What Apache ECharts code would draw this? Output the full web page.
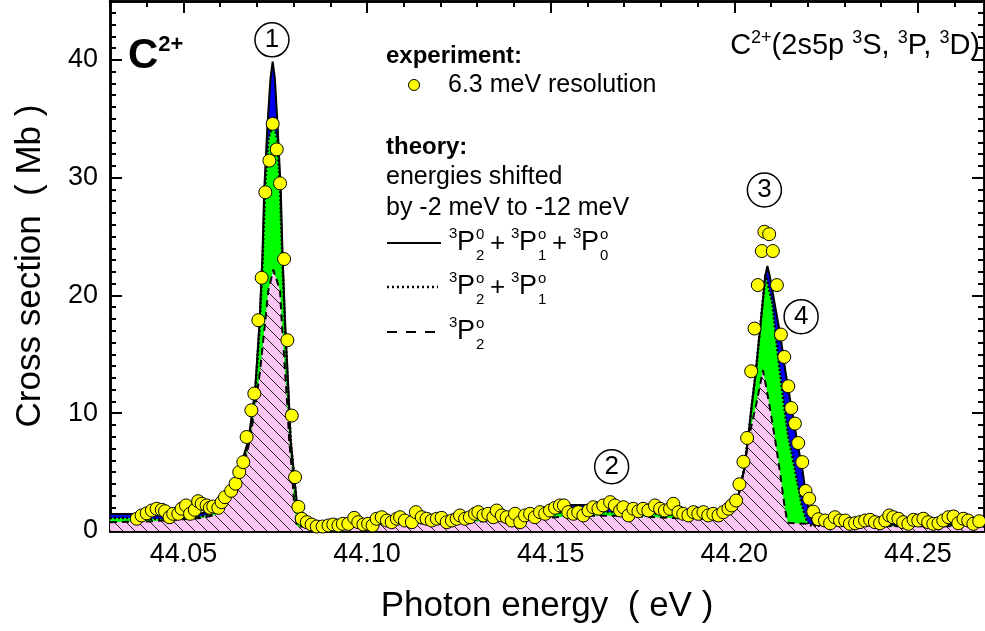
<!DOCTYPE html>
<html><head><meta charset="utf-8">
<script src="https://cdn.jsdelivr.net/npm/echarts@6/dist/echarts.min.js"></script>
<style>html,body{margin:0;padding:0;background:#fff}#c{width:985px;height:631px}</style>
</head><body><div id="c"></div>
<script>
// ---------- experiment (yellow circles) ----------
const expEnergy = [44.0373,44.0386,44.0400,44.0414,44.0427,44.0441,44.0450,44.0462,44.0472,44.0486,44.0495,44.0507,44.0518,44.0531,44.0540,44.0550,44.0563,44.0572,44.0581,44.0595,44.0604,44.0613,44.0630,44.0642,44.0652,44.0663,44.0672,44.0685,44.0693,44.0704,44.0713,44.0723,44.0734,44.0743,44.0754,44.0763,44.0774,44.0783,44.0795,44.0804,44.0813,44.0822,44.0836,44.0849,44.0863,44.0879,44.0895,44.0908,44.0922,44.0934,44.0949,44.0965,44.0976,44.0990,44.1003,44.1015,44.1026,44.1040,44.1054,44.1067,44.1081,44.1090,44.1103,44.1122,44.1133,44.1149,44.1162,44.1176,44.1190,44.1203,44.1217,44.1231,44.1244,44.1253,44.1267,44.1280,44.1294,44.1303,44.1317,44.1330,44.1344,44.1353,44.1367,44.1380,44.1394,44.1403,44.1417,44.1430,44.1444,44.1457,44.1471,44.1485,44.1498,44.1512,44.1525,44.1536,44.1548,44.1562,44.1575,44.1589,44.1603,44.1616,44.1630,44.1643,44.1662,44.1675,44.1689,44.1698,44.1712,44.1725,44.1739,44.1752,44.1766,44.1784,44.1798,44.1811,44.1825,44.1834,44.1848,44.1861,44.1875,44.1889,44.1902,44.1916,44.1929,44.1943,44.1957,44.1970,44.1984,44.1993,44.2005,44.2014,44.2025,44.2035,44.2046,44.2055,44.2064,44.2075,44.2082,44.2095,44.2105,44.2116,44.2127,44.2136,44.2147,44.2155,44.2165,44.2174,44.2185,44.2194,44.2204,44.2215,44.2229,44.2247,44.2261,44.2274,44.2288,44.2302,44.2315,44.2329,44.2342,44.2356,44.2370,44.2383,44.2397,44.2411,44.2422,44.2433,44.2447,44.2460,44.2474,44.2488,44.2501,44.2515,44.2528,44.2542,44.2556,44.2569,44.2583,44.2597,44.2610,44.2624,44.2637,44.2651,44.2667];
const expSigma = [1.04,1.32,1.50,1.74,1.89,1.80,1.68,1.17,1.46,1.46,1.89,2.17,1.46,1.80,2.53,2.31,2.17,1.97,2.08,1.97,2.45,2.87,3.41,4.02,5.00,5.85,7.98,10.25,11.67,17.90,21.50,28.76,31.45,34.57,32.40,29.52,23.09,16.20,9.80,4.57,2.05,1.04,0.75,0.55,0.38,0.38,0.47,0.55,0.47,0.61,0.61,1.12,0.75,0.55,0.61,0.47,1.04,1.17,0.89,0.75,1.04,1.17,0.89,0.75,1.60,1.17,1.04,0.89,1.04,1.12,0.75,0.89,1.04,1.32,1.04,1.17,1.46,1.60,1.32,1.46,1.17,1.74,1.32,1.17,0.89,1.46,0.75,1.32,1.46,1.17,1.60,1.46,1.74,1.97,2.17,2.17,1.60,1.46,1.60,1.32,1.74,2.02,1.89,2.17,2.45,2.17,1.74,2.02,1.32,1.89,1.68,1.89,1.74,2.17,1.89,1.74,1.89,2.31,1.60,1.46,1.32,1.60,1.46,1.60,1.32,1.46,1.32,1.60,1.89,2.17,2.59,3.97,5.88,7.90,13.56,17.19,20.88,23.77,25.41,25.20,23.77,20.88,16.68,14.78,12.29,10.44,9.12,7.47,5.85,3.40,2.74,1.64,1.00,0.89,0.66,1.17,0.89,0.89,0.61,0.66,0.75,0.89,0.95,0.75,0.66,0.89,1.32,1.17,1.04,0.75,0.61,0.95,0.89,1.04,0.75,0.61,0.66,0.89,1.17,1.23,0.66,1.04,0.89,0.61,0.83];

// ---------- theory: 3P2 + 3P1 + 3P0 (solid, blue fill) ----------
const totEnergy = [44.0300,44.0360,44.0400,44.0450,44.0500,44.0550,44.0580,44.0591,44.0620,44.0649,44.0677,44.0695,44.0707,44.0715,44.0720,44.0729,44.0737,44.0743,44.0749,44.0756,44.0765,44.0770,44.0777,44.0786,44.0792,44.0801,44.0810,44.0817,44.0831,44.0900,44.1000,44.1100,44.1200,44.1300,44.1400,44.1450,44.1500,44.1550,44.1600,44.1650,44.1700,44.1750,44.1800,44.1850,44.1900,44.1950,44.1980,44.2006,44.2026,44.2038,44.2048,44.2059,44.2068,44.2077,44.2084,44.2090,44.2097,44.2110,44.2126,44.2139,44.2154,44.2169,44.2186,44.2199,44.2211,44.2234,44.2300,44.2400,44.2500,44.2600,44.2680];
const totSigma = [1.45,1.45,1.35,1.30,1.35,1.50,1.75,2.00,2.80,4.90,7.70,11.90,17.60,23.30,28.95,34.60,38.40,39.86,38.40,34.60,28.95,23.30,17.60,11.90,7.70,4.90,2.00,1.00,0.60,0.55,0.70,0.85,1.00,1.20,1.50,1.80,2.10,2.20,2.20,2.25,2.10,1.90,1.70,1.60,1.60,1.70,1.90,2.30,5.10,8.00,10.80,13.60,16.50,19.30,21.60,22.50,21.60,19.30,16.50,13.60,10.80,8.00,5.10,2.30,0.90,0.60,0.55,0.55,0.60,0.60,0.60];

// ---------- theory: 3P2 + 3P1 (dotted, green fill) ----------
const p21Energy = [44.0300,44.0360,44.0400,44.0450,44.0500,44.0550,44.0580,44.0600,44.0625,44.0653,44.0679,44.0696,44.0708,44.0716,44.0722,44.0731,44.0744,44.0756,44.0763,44.0769,44.0776,44.0785,44.0792,44.0800,44.0809,44.0817,44.0830,44.0900,44.1000,44.1100,44.1200,44.1300,44.1400,44.1500,44.1600,44.1700,44.1800,44.1900,44.1960,44.1980,44.2006,44.2026,44.2038,44.2048,44.2059,44.2068,44.2077,44.2085,44.2104,44.2113,44.2124,44.2135,44.2147,44.2166,44.2183,44.2196,44.2204,44.2220,44.2300,44.2400,44.2500,44.2600,44.2680];
const p21Sigma = [1.10,1.10,1.05,1.00,1.10,1.25,1.50,2.00,2.80,4.90,7.70,11.90,17.60,23.30,29.00,33.20,34.70,33.20,29.00,23.30,17.60,11.90,7.70,4.90,2.00,0.80,0.45,0.45,0.60,0.75,0.90,1.05,1.30,1.55,1.65,1.60,1.45,1.35,1.50,1.80,2.30,5.10,8.00,10.80,13.60,16.50,19.30,21.80,19.30,16.50,13.60,10.80,8.00,5.10,2.30,1.00,0.50,0.45,0.45,0.45,0.50,0.50,0.50];

// ---------- theory: 3P2 (dashed, hatched pink fill) ----------
const p2Energy = [44.0300,44.0400,44.0450,44.0500,44.0550,44.0590,44.0600,44.0630,44.0659,44.0681,44.0695,44.0708,44.0722,44.0731,44.0745,44.0763,44.0768,44.0777,44.0783,44.0788,44.0796,44.0802,44.0809,44.0830,44.0900,44.1000,44.1100,44.1200,44.1300,44.1400,44.1500,44.1600,44.1700,44.1800,44.1900,44.1960,44.1980,44.2006,44.2026,44.2040,44.2060,44.2069,44.2078,44.2087,44.2095,44.2110,44.2124,44.2136,44.2142,44.2146,44.2200,44.2300,44.2400,44.2500,44.2600,44.2680];
const p2Sigma = [0.75,0.80,0.90,1.00,1.10,1.40,1.90,3.00,4.90,7.70,10.50,13.40,17.60,20.40,22.20,20.40,17.60,13.40,10.50,7.70,4.90,2.00,0.40,0.35,0.35,0.50,0.60,0.70,0.80,0.95,1.15,1.30,1.30,1.15,1.00,1.20,1.50,2.30,5.10,8.00,10.80,12.20,13.65,12.20,10.80,8.00,5.10,2.30,1.20,0.70,0.60,0.45,0.40,0.40,0.40,0.40];

// ---------- axes ----------
const xMajorTicks = [44.05, 44.10, 44.15, 44.20, 44.25];
const xMinorTicks = [44.03,44.04,44.06,44.07,44.08,44.09,44.11,44.12,44.13,44.14,44.16,44.17,44.18,44.19,44.21,44.22,44.23,44.24,44.26];
const yMajorTicks = [0, 10, 20, 30, 40];
const yMinorTicks = [1,2,3,4,5,6,7,8,9,11,12,13,14,15,16,17,18,19,21,22,23,24,25,26,27,28,29,31,32,33,34,35,36,37,38,39,41,42,43,44];

// ---------- annotations (circled numbers) ----------
const peakLabels = ['1', '2', '3', '4'];
const peakLabelEnergy = [44.0741, 44.1666, 44.2082, 44.2182];
const peakLabelSigma = [41.7, 5.45, 28.95, 18.2];

const FONT = '"Liberation Sans", Arial, sans-serif';
const X_MIN = 44.03, X_MAX = 44.268, Y_MIN = 0, Y_MAX = 45;

function zip(a, b) { return a.map((v, i) => [v, b[i]]); }

// hatch pattern for the 3P2 area
const pat = document.createElement('canvas');
pat.width = 12; pat.height = 12;
(function () {
  const c = pat.getContext('2d');
  c.fillStyle = '#fcc6f4'; c.fillRect(0, 0, 12, 12);
  c.strokeStyle = '#222'; c.lineWidth = 1;
  c.beginPath();
  c.moveTo(0, 0); c.lineTo(12, 12);
  c.moveTo(-1, 11); c.lineTo(1, 13);
  c.moveTo(11, -1); c.lineTo(13, 1);
  c.stroke();
})();

function xAxisDef(pos, ticks, len, showLabel, name) {
  return {
    type: 'value', position: pos, min: X_MIN, max: X_MAX,
    name: name || '', nameLocation: 'middle', nameGap: 58,
    nameTextStyle: { fontSize: 35, fontFamily: FONT, color: '#000' },
    axisLine: { show: true, onZero: false, lineStyle: { color: '#000', width: 2.5 } },
    axisTick: { show: true, inside: true, length: len, customValues: ticks, lineStyle: { color: '#000', width: 2 } },
    axisLabel: { show: showLabel, customValues: ticks, formatter: v => v.toFixed(2), fontSize: 27, fontFamily: FONT, color: '#000', margin: 10 },
    splitLine: { show: false }
  };
}
function yAxisDef(pos, ticks, len, showLabel, name) {
  return {
    type: 'value', position: pos, min: Y_MIN, max: Y_MAX,
    name: name || '', nameLocation: 'middle', nameGap: 62,
    nameTextStyle: { fontSize: 35, fontFamily: FONT, color: '#000' },
    axisLine: { show: true, onZero: false, lineStyle: { color: '#000', width: 2.5 } },
    axisTick: { show: true, inside: true, length: len, customValues: ticks, lineStyle: { color: '#000', width: 2 } },
    axisLabel: { show: showLabel, customValues: ticks, fontSize: 27, fontFamily: FONT, color: '#000', margin: 12 },
    splitLine: { show: false }
  };
}

function txt(t, x, y, size, bold) {
  return { type: 'text', x: x, y: y, z: 100,
    style: { text: t, fontSize: size, fontFamily: FONT, fontWeight: bold ? 'bold' : 'normal', fill: '#000', verticalAlign: 'middle', align: 'left' } };
}
function formula(x, y, terms) {
  const els = [];
  let cx = x;
  terms.forEach((t, i) => {
    if (i > 0) { cx += 6; els.push(txt('+', cx, y + 1, 26)); cx += 21; }
    els.push(txt('3', cx, y - 9, 15)); cx += 8;
    els.push(txt('P', cx, y, 27)); cx += 18;
    els.push(txt(t[0], cx + 1, y - 8, 15));
    els.push(txt(t[1], cx + 1, y + 13, 15));
    cx += 9;
  });
  return els;
}

const graphics = [
  // big C2+ label
  { type: 'text', x: 128, y: 78, z: 100, style: { text: '{c|C}{s|2+}', verticalAlign: 'bottom', align: 'left',
      rich: { c: { fontSize: 42, fontWeight: 'bold', fontFamily: FONT, fill: '#000', lineHeight: 44 },
              s: { fontSize: 22, fontWeight: 'bold', fontFamily: FONT, fill: '#000', verticalAlign: 'top' } } } },
  // top-right configuration label
  { type: 'text', x: 980, y: 46, z: 100, style: { text: '{n|C}{s|2+}{n|(2s5p }{s|3}{n|S, }{s|3}{n|P, }{s|3}{n|D)}', align: 'right', verticalAlign: 'middle',
      rich: { n: { fontSize: 29, fontFamily: FONT, fill: '#000', lineHeight: 34 },
              s: { fontSize: 18, fontFamily: FONT, fill: '#000', verticalAlign: 'top' } } } },
  txt('experiment:', 386, 56, 24, true),
  { type: 'circle', z: 100, shape: { cx: 414, cy: 85, r: 5.5 }, style: { fill: '#ffff00', stroke: '#000', lineWidth: 1 } },
  txt('6.3 meV resolution', 448, 85, 25),
  txt('theory:', 386, 147, 24, true),
  txt('energies shifted', 386, 177, 25),
  txt('by -2 meV to -12 meV', 386, 208, 25),
  { type: 'line', z: 100, shape: { x1: 387, y1: 243, x2: 441, y2: 243 }, style: { stroke: '#000', lineWidth: 2 } },
  { type: 'line', z: 100, shape: { x1: 387, y1: 287, x2: 438, y2: 287 }, style: { stroke: '#000', lineWidth: 2.5, lineDash: [2, 3] } },
  { type: 'line', z: 100, shape: { x1: 387, y1: 332, x2: 435, y2: 332 }, style: { stroke: '#000', lineWidth: 2, lineDash: [10, 9] } }
].concat(
  formula(449, 243, [['0', '2'], ['o', '1'], ['o', '0']]),
  formula(449, 287, [['o', '2'], ['o', '1']]),
  formula(449, 332, [['o', '2']])
);

const chart = echarts.init(document.getElementById('c'), null, { renderer: 'canvas' });
chart.setOption({
  animation: false,
  backgroundColor: '#fff',
  grid: { left: 110, right: 1, top: 1, bottom: 100, containLabel: false },
  xAxis: [
    xAxisDef('bottom', xMajorTicks, 12, true, 'Photon energy  ( eV )'),
    xAxisDef('bottom', xMinorTicks, 6, false),
    xAxisDef('top', xMajorTicks, 12, false),
    xAxisDef('top', xMinorTicks, 6, false)
  ],
  yAxis: [
    yAxisDef('left', yMajorTicks, 12, true, 'Cross section  ( Mb )'),
    yAxisDef('left', yMinorTicks, 6, false),
    yAxisDef('right', yMajorTicks, 12, false),
    yAxisDef('right', yMinorTicks, 6, false)
  ],
  series: [
    { name: 'total area', type: 'line', data: zip(totEnergy, totSigma), showSymbol: false, lineStyle: { width: 0 },
      areaStyle: { color: '#0000f0', opacity: 1 }, z: 1 },
    { name: 'p21 area', type: 'line', data: zip(p21Energy, p21Sigma), showSymbol: false, lineStyle: { width: 0 },
      areaStyle: { color: '#00ff00', opacity: 1 }, z: 2 },
    { name: 'p2 area', type: 'line', data: zip(p2Energy, p2Sigma), showSymbol: false, lineStyle: { width: 0 },
      areaStyle: { color: { image: pat, repeat: 'repeat' }, opacity: 1 }, z: 3 },
    { name: '3P2', type: 'line', data: zip(p2Energy, p2Sigma), showSymbol: false,
      lineStyle: { color: '#000', width: 2, type: [7, 5] }, z: 4 },
    { name: '3P2+3P1', type: 'line', data: zip(p21Energy, p21Sigma), showSymbol: false,
      lineStyle: { color: '#000', width: 2.5, type: [2, 2] }, z: 5 },
    { name: '3P2+3P1+3P0', type: 'line', data: zip(totEnergy, totSigma), showSymbol: false,
      lineStyle: { color: '#000', width: 2 }, z: 6 },
    { name: 'experiment', type: 'scatter', data: zip(expEnergy, expSigma), symbol: 'circle', symbolSize: 13,
      itemStyle: { color: '#ffff00', borderColor: '#000', borderWidth: 1, opacity: 1 }, z: 7,
      markPoint: {
        symbol: 'circle', symbolSize: 34, z: 8,
        itemStyle: { color: '#fff', borderColor: '#000', borderWidth: 1.5 },
        label: { show: true, position: 'inside', formatter: p => p.name, fontSize: 26, fontFamily: FONT, color: '#000' },
        data: peakLabels.map((n, i) => ({ name: n, coord: [peakLabelEnergy[i], peakLabelSigma[i]] }))
      } }
  ],
  graphic: graphics
});
</script></body></html>
